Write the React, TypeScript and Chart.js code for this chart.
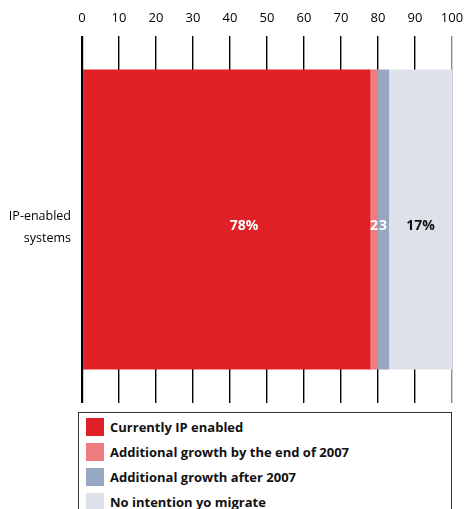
import React, { useEffect, useRef } from "react";
import { Chart, registerables } from "chart.js";

Chart.register(...registerables);

const categories = [["IP-enabled", "systems"]];
const seriesNames = [
  "Currently IP enabled",
  "Additional growth by the end of 2007",
  "Additional growth after 2007",
  "No intention yo migrate",
];
const currentlyEnabled = [78];
const growthBy2007 = [2];
const growthAfter2007 = [3];
const noIntention = [17];
const segmentLabels = ["78%", "2", "3", "17%"];
const labelColors = ["#ffffff", "#ffffff", "#ffffff", "#111111"];
const labelAnchor = [0.56, 0.45, 0.45, 0.5];
const colors = ["#E11F26", "#EE7B80", "#97A6C1", "#DFE1EA"];
const xTicks = [0, 10, 20, 30, 40, 50, 60, 70, 80, 90, 100];

const FONT = "'Open Sans', 'DejaVu Sans', sans-serif";

const labelPlugin = {
  id: "segLabels",
  afterDatasetsDraw(chart: any) {
    const ctx = chart.ctx;
    ctx.save();
    ctx.font = `bold 14px ${FONT}`;
    ctx.textAlign = "center";
    ctx.textBaseline = "middle";
    chart.data.datasets.forEach((ds: any, i: number) => {
      const meta = chart.getDatasetMeta(i);
      meta.data.forEach((bar: any) => {
        const cx = bar.base + (bar.x - bar.base) * labelAnchor[i];
        ctx.fillStyle = labelColors[i];
        ctx.fillText(segmentLabels[i], cx, bar.y + 7);
      });
    });
    ctx.restore();
  },
};

const zeroPad = (s: any) => {
  s.paddingTop = 0;
  s.paddingBottom = 0;
  s.paddingLeft = 0;
  s.paddingRight = 0;
};

export default function App() {
  const ref = useRef<HTMLCanvasElement>(null);
  useEffect(() => {
    if (!ref.current) return;
    const data = [currentlyEnabled, growthBy2007, growthAfter2007, noIntention];
    const chart = new Chart(ref.current, {
      type: "bar",
      data: {
        labels: categories as any,
        datasets: data.map((d, i) => ({
          label: seriesNames[i],
          data: d,
          backgroundColor: colors[i],
          borderWidth: 0,
          barPercentage: 0.817,
          categoryPercentage: 1,
        })),
      },
      options: {
        indexAxis: "y",
        animation: false,
        responsive: false,
        maintainAspectRatio: false,
        layout: { padding: { top: 0, right: 14, bottom: 2, left: 0 } },
        plugins: { legend: { display: false }, tooltip: { enabled: false } },
        scales: {
          x: {
            position: "top",
            stacked: true,
            min: 0,
            max: 100,
            afterBuildTicks: (s: any) => {
              s.ticks = xTicks.map((v) => ({ value: v }));
            },
            afterFit: (s: any) => {
              zeroPad(s);
              s.height = 36;
            },
            border: { display: false },
            grid: {
              drawTicks: false,
              color: (c: any) => (c.tick && c.tick.value === 100 ? "#8a8a8a" : "#000000"),
              lineWidth: (c: any) => (c.tick && c.tick.value === 0 ? 2.2 : 1.4),
            },
            ticks: {
              padding: 10,
              color: "#000",
              font: { family: FONT, size: 13 },
            },
          },
          y: {
            stacked: true,
            border: { display: false },
            grid: { display: false, drawTicks: false },
            afterFit: (s: any) => {
              zeroPad(s);
              s.width = 82;
            },
            ticks: {
              padding: 11,
              labelOffset: 8,
              color: "#000",
              font: { family: FONT, size: 12.5, lineHeight: 1.7 },
            },
          },
        },
      },
      plugins: [labelPlugin],
    } as any);
    return () => chart.destroy();
  }, []);

  return (
    <div style={{ position: "absolute", left: 0, top: 0, width: 466, height: 509, background: "#fff", overflow: "hidden" }}>
      <canvas ref={ref} width={466} height={405} style={{ display: "block", width: 466, height: 405 }} />
      <div
        style={{
          position: "absolute",
          left: 78,
          top: 412,
          width: 374,
          height: 120,
          border: "1px solid #333",
          fontFamily: FONT,
          fontWeight: "bold",
          fontSize: 13,
          color: "#111",
          paddingTop: 1,
          boxSizing: "border-box",
        }}
      >
        {seriesNames.map((n, i) => (
          <div key={n} style={{ display: "flex", alignItems: "center", height: 25, paddingLeft: 7 }}>
            <span style={{ display: "inline-block", width: 18, height: 18, background: colors[i], marginRight: 6 }} />
            <span>{n}</span>
          </div>
        ))}
      </div>
    </div>
  );
}
